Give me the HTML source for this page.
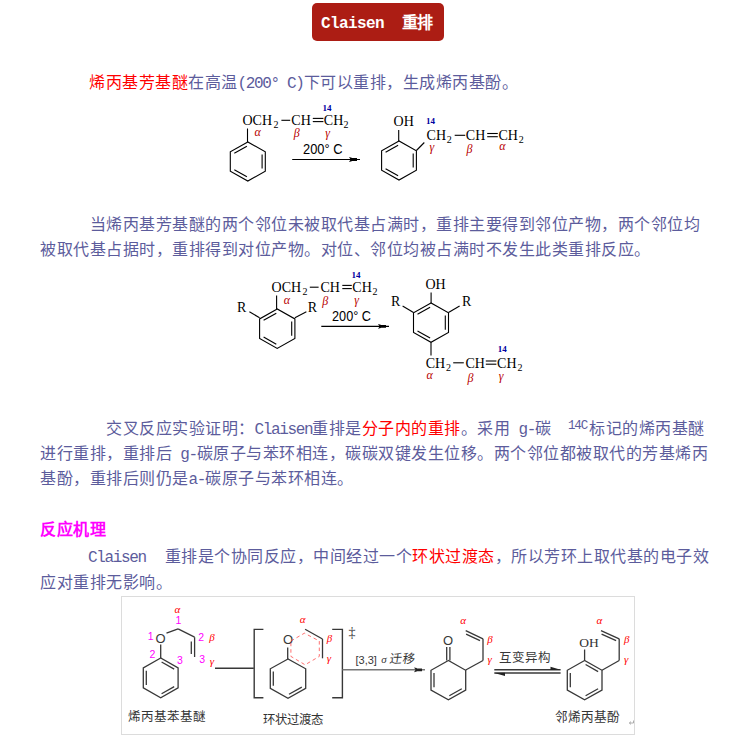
<!DOCTYPE html>
<html lang="zh-CN"><head><meta charset="utf-8">
<style>
html,body{margin:0;padding:0;background:#fff;width:737px;height:738px;overflow:hidden;}
body{position:relative;font-family:"Liberation Sans",sans-serif;}
.btn{position:absolute;left:312px;top:3px;width:132px;height:38px;background:#ac1d14;border-radius:5px;}
.btn span{position:absolute;left:9px;top:2px;line-height:38px;color:#fff;font-weight:bold;font-family:"Liberation Mono",monospace;font-size:16px;letter-spacing:-0.6px;white-space:pre;}
.ln{position:absolute;white-space:pre;font-size:16px;letter-spacing:0.5px;line-height:25px;color:#5c5c9c;}
.m{font-family:"Liberation Mono",monospace;font-size:16px;letter-spacing:-1.35px;font-weight:normal;}
.r{color:#ff0000;}
.h{color:#ff00ff;font-weight:bold;}
sup{font-family:"Liberation Mono",monospace;font-size:12.5px;vertical-align:0;position:relative;top:-5px;letter-spacing:-1.2px;font-weight:normal;display:inline-block;width:21px;}
svg{position:absolute;left:0;top:0;}
</style></head><body>
<div class="btn"><span>Claisen  重排</span></div>
<div class="ln" style="left:89px;top:70px"><span class="r">烯丙基芳基醚</span>在高温<span class="m">(200° C)</span>下可以重排，生成烯丙基酚。</div>
<div class="ln" style="left:89.5px;top:212px">当烯丙基芳基醚的两个邻位未被取代基占满时，重排主要得到邻位产物，两个邻位均</div>
<div class="ln" style="left:40px;top:237px">被取代基占据时，重排得到对位产物。对位、邻位均被占满时不发生此类重排反应。</div>
<div class="ln" style="left:106px;top:416px">交叉反应实验证明：<span class="m">Claisen</span>重排是<span class="r">分子内的重排</span>。采用<span class="m"> g-</span>碳<span class="m">  </span><sup>14C</sup>标记的烯丙基醚</div>
<div class="ln" style="left:40px;top:441px">进行重排，重排后<span class="m"> g-</span>碳原子与苯环相连，碳碳双键发生位移。两个邻位都被取代的芳基烯丙</div>
<div class="ln" style="left:40px;top:466px">基酚，重排后则仍是<span class="m">a-</span>碳原子与苯环相连。</div>
<div class="ln h" style="left:40px;top:517px">反应机理</div>
<div class="ln" style="left:88px;top:544px"><span class="m" style="padding-right:2.5px">Claisen  </span>重排是个协同反应，中间经过一个<span class="r">环状过渡态</span>，所以芳环上取代基的电子效</div>
<div class="ln" style="left:40px;top:570px">应对重排无影响。</div>
<svg width="737" height="738" viewBox="0 0 737 738">
<text x="242.5" y="124.5" font-family="Liberation Serif" font-size="14" fill="#000" text-anchor="start" >OCH</text>
<text x="273.6" y="127.8" font-family="Liberation Serif" font-size="10" fill="#000" text-anchor="start" >2</text>
<line x1="281.4" y1="120.3" x2="290.2" y2="120.3" stroke="#000" stroke-width="1.1" />
<text x="291.3" y="124.5" font-family="Liberation Serif" font-size="14" fill="#000" text-anchor="start" >CH</text>
<line x1="312.8" y1="118.4" x2="323.4" y2="118.4" stroke="#000" stroke-width="1.1" />
<line x1="312.8" y1="121.6" x2="323.4" y2="121.6" stroke="#000" stroke-width="1.1" />
<text x="323.8" y="124.5" font-family="Liberation Serif" font-size="14" fill="#000" text-anchor="start" >CH</text>
<text x="343.6" y="127.8" font-family="Liberation Serif" font-size="10" fill="#000" text-anchor="start" >2</text>
<text x="322.5" y="110.6" font-family="Liberation Serif" font-size="9" fill="#0000a0" text-anchor="start" font-weight="bold">14</text>
<text x="254.5" y="136.4" font-family="Liberation Serif" font-size="12" fill="#b80000" text-anchor="start" font-style="italic">α</text>
<text x="293.8" y="137.0" font-family="Liberation Serif" font-size="12" fill="#b80000" text-anchor="start" font-style="italic">β</text>
<text x="325.2" y="136.5" font-family="Liberation Serif" font-size="12" fill="#b80000" text-anchor="start" font-style="italic">γ</text>
<line x1="247.5" y1="128.5" x2="247.5" y2="142.0" stroke="#000" stroke-width="1.1" />
<polygon points="247.8,142.0 230.3,151.8 230.3,171.2 247.8,181.0 265.3,171.2 265.3,151.8" fill="none" stroke="#000" stroke-width="1.1" stroke-linejoin="miter"/>
<line x1="246.9" y1="146.2" x2="234.3" y2="153.2" stroke="#000" stroke-width="1.1" />
<line x1="262.1" y1="168.5" x2="262.1" y2="154.5" stroke="#000" stroke-width="1.1" />
<line x1="234.3" y1="169.8" x2="246.9" y2="176.8" stroke="#000" stroke-width="1.1" />
<text x="303.0" y="154.0" font-family="Liberation Sans" font-size="14" fill="#000" text-anchor="start" textLength="39.5" lengthAdjust="spacingAndGlyphs">200° C</text>
<line x1="292.2" y1="159.5" x2="360.0" y2="159.5" stroke="#000" stroke-width="1.1" />
<path d="M349,157.1 L351.8,157.8 L351.8,158.1 L357,158.1 L357,160.9 L351.8,160.9 L351.8,161.2 L349,161.9 L350.6,159.5 Z" fill="#000"/>
<text x="393.6" y="126.3" font-family="Liberation Serif" font-size="14" fill="#000" text-anchor="start" >OH</text>
<line x1="398.7" y1="130.0" x2="398.7" y2="141.0" stroke="#000" stroke-width="1.1" />
<polygon points="399.0,141.0 381.6,150.8 381.6,170.2 399.0,180.0 416.4,170.2 416.4,150.8" fill="none" stroke="#000" stroke-width="1.1" stroke-linejoin="miter"/>
<line x1="398.1" y1="145.2" x2="385.6" y2="152.2" stroke="#000" stroke-width="1.1" />
<line x1="413.2" y1="167.5" x2="413.2" y2="153.5" stroke="#000" stroke-width="1.1" />
<line x1="385.6" y1="168.8" x2="398.1" y2="175.8" stroke="#000" stroke-width="1.1" />
<line x1="416.4" y1="150.5" x2="424.3" y2="142.5" stroke="#000" stroke-width="1.1" />
<text x="426.6" y="139.8" font-family="Liberation Serif" font-size="14" fill="#000" text-anchor="start" >CH</text>
<text x="446.8" y="143.0" font-family="Liberation Serif" font-size="10" fill="#000" text-anchor="start" >2</text>
<text x="426.0" y="123.8" font-family="Liberation Serif" font-size="9" fill="#0000a0" text-anchor="start" font-weight="bold">14</text>
<text x="429.6" y="150.5" font-family="Liberation Serif" font-size="12" fill="#b80000" text-anchor="start" font-style="italic">γ</text>
<line x1="454.7" y1="135.3" x2="465.2" y2="135.3" stroke="#000" stroke-width="1.1" />
<text x="465.8" y="140.0" font-family="Liberation Serif" font-size="14" fill="#000" text-anchor="start" >CH</text>
<line x1="487.2" y1="133.5" x2="497.8" y2="133.5" stroke="#000" stroke-width="1.1" />
<line x1="487.2" y1="136.7" x2="497.8" y2="136.7" stroke="#000" stroke-width="1.1" />
<text x="498.4" y="140.0" font-family="Liberation Serif" font-size="14" fill="#000" text-anchor="start" >CH</text>
<text x="518.8" y="143.2" font-family="Liberation Serif" font-size="10" fill="#000" text-anchor="start" >2</text>
<text x="466.5" y="152.5" font-family="Liberation Serif" font-size="12" fill="#b80000" text-anchor="start" font-style="italic">β</text>
<text x="499.2" y="149.5" font-family="Liberation Serif" font-size="12" fill="#b80000" text-anchor="start" font-style="italic">α</text>
<text x="271.6" y="291.5" font-family="Liberation Serif" font-size="14" fill="#000" text-anchor="start" >OCH</text>
<text x="302.6" y="294.8" font-family="Liberation Serif" font-size="10" fill="#000" text-anchor="start" >2</text>
<line x1="309.8" y1="287.2" x2="318.6" y2="287.2" stroke="#000" stroke-width="1.1" />
<text x="320.4" y="291.5" font-family="Liberation Serif" font-size="14" fill="#000" text-anchor="start" >CH</text>
<line x1="342.3" y1="285.4" x2="351.8" y2="285.4" stroke="#000" stroke-width="1.1" />
<line x1="342.3" y1="288.6" x2="351.8" y2="288.6" stroke="#000" stroke-width="1.1" />
<text x="352.3" y="291.5" font-family="Liberation Serif" font-size="14" fill="#000" text-anchor="start" >CH</text>
<text x="372.6" y="294.8" font-family="Liberation Serif" font-size="10" fill="#000" text-anchor="start" >2</text>
<text x="351.6" y="278.0" font-family="Liberation Serif" font-size="9" fill="#0000a0" text-anchor="start" font-weight="bold">14</text>
<text x="283.8" y="303.5" font-family="Liberation Serif" font-size="12" fill="#b80000" text-anchor="start" font-style="italic">α</text>
<text x="322.3" y="304.5" font-family="Liberation Serif" font-size="12" fill="#b80000" text-anchor="start" font-style="italic">β</text>
<text x="354.3" y="303.5" font-family="Liberation Serif" font-size="12" fill="#b80000" text-anchor="start" font-style="italic">γ</text>
<line x1="276.6" y1="295.5" x2="276.6" y2="309.0" stroke="#000" stroke-width="1.1" />
<polygon points="277.2,309.0 259.6,318.9 259.6,338.5 277.2,348.4 294.9,338.5 294.9,318.9" fill="none" stroke="#000" stroke-width="1.1" stroke-linejoin="miter"/>
<line x1="276.3" y1="313.2" x2="263.6" y2="320.3" stroke="#000" stroke-width="1.1" />
<line x1="291.7" y1="335.8" x2="291.7" y2="321.6" stroke="#000" stroke-width="1.1" />
<line x1="263.6" y1="337.1" x2="276.3" y2="344.2" stroke="#000" stroke-width="1.1" />
<text x="237.0" y="311.8" font-family="Liberation Serif" font-size="14" fill="#000" text-anchor="start" >R</text>
<line x1="249.4" y1="311.8" x2="259.6" y2="317.8" stroke="#000" stroke-width="1.1" />
<text x="307.8" y="311.8" font-family="Liberation Serif" font-size="14" fill="#000" text-anchor="start" >R</text>
<line x1="294.9" y1="317.8" x2="306.4" y2="311.8" stroke="#000" stroke-width="1.1" />
<text x="332.0" y="320.6" font-family="Liberation Sans" font-size="14" fill="#000" text-anchor="start" textLength="39" lengthAdjust="spacingAndGlyphs">200° C</text>
<line x1="321.3" y1="326.4" x2="389.0" y2="326.4" stroke="#000" stroke-width="1.1" />
<path d="M378,324.0 L380.8,324.7 L380.8,325.0 L386,325.0 L386,327.79999999999995 L380.8,327.79999999999995 L380.8,328.09999999999997 L378,328.79999999999995 L379.6,326.4 Z" fill="#000"/>
<text x="425.5" y="288.7" font-family="Liberation Serif" font-size="14" fill="#000" text-anchor="start" >OH</text>
<line x1="431.1" y1="292.5" x2="431.1" y2="303.0" stroke="#000" stroke-width="1.1" />
<polygon points="431.0,303.0 413.5,312.8 413.5,332.5 431.0,342.3 448.5,332.5 448.5,312.8" fill="none" stroke="#000" stroke-width="1.1" stroke-linejoin="miter"/>
<line x1="430.1" y1="307.2" x2="417.5" y2="314.2" stroke="#000" stroke-width="1.1" />
<line x1="445.3" y1="329.7" x2="445.3" y2="315.6" stroke="#000" stroke-width="1.1" />
<line x1="417.5" y1="331.1" x2="430.1" y2="338.1" stroke="#000" stroke-width="1.1" />
<text x="391.0" y="305.7" font-family="Liberation Serif" font-size="14" fill="#000" text-anchor="start" >R</text>
<line x1="402.6" y1="306.0" x2="413.5" y2="312.5" stroke="#000" stroke-width="1.1" />
<text x="462.0" y="305.7" font-family="Liberation Serif" font-size="14" fill="#000" text-anchor="start" >R</text>
<line x1="448.5" y1="312.5" x2="459.6" y2="306.0" stroke="#000" stroke-width="1.1" />
<line x1="431.0" y1="342.3" x2="431.0" y2="355.5" stroke="#000" stroke-width="1.1" />
<text x="425.7" y="367.9" font-family="Liberation Serif" font-size="14" fill="#000" text-anchor="start" >CH</text>
<text x="446.0" y="371.0" font-family="Liberation Serif" font-size="10" fill="#000" text-anchor="start" >2</text>
<line x1="453.2" y1="362.8" x2="463.8" y2="362.8" stroke="#000" stroke-width="1.1" />
<text x="465.4" y="367.9" font-family="Liberation Serif" font-size="14" fill="#000" text-anchor="start" >CH</text>
<line x1="485.8" y1="361.0" x2="496.4" y2="361.0" stroke="#000" stroke-width="1.1" />
<line x1="485.8" y1="364.2" x2="496.4" y2="364.2" stroke="#000" stroke-width="1.1" />
<text x="497.1" y="367.9" font-family="Liberation Serif" font-size="14" fill="#000" text-anchor="start" >CH</text>
<text x="517.6" y="371.0" font-family="Liberation Serif" font-size="10" fill="#000" text-anchor="start" >2</text>
<text x="497.8" y="352.0" font-family="Liberation Serif" font-size="9" fill="#0000a0" text-anchor="start" font-weight="bold">14</text>
<text x="426.5" y="379.4" font-family="Liberation Serif" font-size="12" fill="#b80000" text-anchor="start" font-style="italic">α</text>
<text x="467.6" y="381.5" font-family="Liberation Serif" font-size="12" fill="#b80000" text-anchor="start" font-style="italic">β</text>
<text x="498.8" y="380.0" font-family="Liberation Serif" font-size="12" fill="#b80000" text-anchor="start" font-style="italic">γ</text>
<rect x="121.5" y="596.5" width="513" height="138" fill="none" stroke="#dcdcdc" stroke-width="1"/>
<text x="174.5" y="613.4" font-family="Liberation Serif" font-size="11" fill="#ff0000" text-anchor="start" font-style="italic">α</text>
<text x="175.5" y="624.0" font-family="Liberation Sans" font-size="10.5" fill="#ff00ff" text-anchor="start" >1</text>
<text x="147.8" y="639.6" font-family="Liberation Sans" font-size="10.5" fill="#ff00ff" text-anchor="start" >1</text>
<text x="155.5" y="642.5" font-family="Liberation Sans" font-size="13" fill="#383838" text-anchor="start" >O</text>
<line x1="166.5" y1="633.2" x2="178.1" y2="628.9" stroke="#383838" stroke-width="1.3" />
<line x1="178.1" y1="628.9" x2="194.6" y2="637.2" stroke="#383838" stroke-width="1.3" />
<line x1="194.6" y1="637.2" x2="194.6" y2="657.0" stroke="#383838" stroke-width="1.3" />
<line x1="191.3" y1="641.5" x2="191.3" y2="654.0" stroke="#383838" stroke-width="1.3" />
<text x="198.2" y="640.5" font-family="Liberation Sans" font-size="10.5" fill="#ff00ff" text-anchor="start" >2</text>
<text x="209.2" y="640.5" font-family="Liberation Serif" font-size="11" fill="#ff0000" text-anchor="start" font-style="italic">β</text>
<text x="199.2" y="662.8" font-family="Liberation Sans" font-size="10.5" fill="#ff00ff" text-anchor="start" >3</text>
<text x="209.8" y="664.5" font-family="Liberation Serif" font-size="11" fill="#ff0000" text-anchor="start" font-style="italic">γ</text>
<line x1="160.7" y1="644.4" x2="160.7" y2="658.0" stroke="#383838" stroke-width="1.3" />
<text x="149.6" y="658.0" font-family="Liberation Sans" font-size="10.5" fill="#ff00ff" text-anchor="start" >2</text>
<text x="177.0" y="663.8" font-family="Liberation Sans" font-size="10.5" fill="#ff00ff" text-anchor="start" >3</text>
<polygon points="160.7,658.0 143.3,667.9 143.3,687.8 160.7,697.7 178.1,687.8 178.1,667.9" fill="none" stroke="#383838" stroke-width="1.3" stroke-linejoin="miter"/>
<line x1="174.2" y1="669.1" x2="161.6" y2="662.0" stroke="#383838" stroke-width="1.3" />
<line x1="146.3" y1="670.7" x2="146.3" y2="685.0" stroke="#383838" stroke-width="1.3" />
<line x1="161.6" y1="693.7" x2="174.2" y2="686.6" stroke="#383838" stroke-width="1.3" />
<line x1="215.0" y1="668.3" x2="253.8" y2="668.3" stroke="#383838" stroke-width="1.4" />
<text x="127.5" y="720.5" font-family="Liberation Sans" font-size="12.5" fill="#333" text-anchor="start" >烯丙基苯基醚</text>
<path d="M263.4,629.4 H254.2 V697.7 H263.4" fill="none" stroke="#383838" stroke-width="1.4"/>
<path d="M332.2,629.4 H342.4 V697.7 H332.2" fill="none" stroke="#383838" stroke-width="1.4"/>
<text x="348.5" y="637.0" font-family="Liberation Serif" font-size="14" fill="#383838" text-anchor="start" >‡</text>
<text x="283.0" y="643.5" font-family="Liberation Sans" font-size="13" fill="#383838" text-anchor="start" >O</text>
<line x1="287.7" y1="647.4" x2="287.7" y2="659.0" stroke="#383838" stroke-width="1.3" />
<polygon points="288.0,659.0 270.3,668.8 270.3,688.4 288.0,698.2 305.7,688.4 305.7,668.8" fill="none" stroke="#383838" stroke-width="1.3" stroke-linejoin="miter"/>
<line x1="273.3" y1="671.5" x2="273.3" y2="685.7" stroke="#383838" stroke-width="1.3" />
<line x1="289.0" y1="694.2" x2="301.8" y2="687.1" stroke="#383838" stroke-width="1.3" />
<path d="M290.9,641 L304.4,633.2 L319.3,641 L319.3,656.4 L305.1,664.8 L290.9,656.4 Z" fill="none" stroke="#ff4040" stroke-width="1" stroke-dasharray="3.5,3" opacity="0.75"/>
<line x1="305.1" y1="629.3" x2="322.5" y2="639.0" stroke="#383838" stroke-width="1.3" />
<line x1="322.5" y1="639.0" x2="322.5" y2="658.3" stroke="#383838" stroke-width="1.3" />
<text x="299.7" y="623.0" font-family="Liberation Serif" font-size="11" fill="#ff0000" text-anchor="start" font-style="italic">α</text>
<text x="326.8" y="641.5" font-family="Liberation Serif" font-size="11" fill="#ff0000" text-anchor="start" font-style="italic">β</text>
<text x="326.8" y="662.0" font-family="Liberation Serif" font-size="11" fill="#ff0000" text-anchor="start" font-style="italic">γ</text>
<text x="262.5" y="724.0" font-family="Liberation Sans" font-size="12.4" fill="#333" text-anchor="start" >环状过渡态</text>
<line x1="342.4" y1="669.8" x2="425.0" y2="669.8" stroke="#777" stroke-width="1.5" />
<path d="M414,667.4 L416.8,668.0999999999999 L416.8,668.4 L422,668.4 L422,671.1999999999999 L416.8,671.1999999999999 L416.8,671.5 L414,672.1999999999999 L415.6,669.8 Z" fill="#222"/>
<text x="355.5" y="663.5" font-family="Liberation Sans" font-size="11" fill="#383838" text-anchor="start" >[3,3]</text>
<text x="381.2" y="662.5" font-family="Liberation Serif" font-size="11" fill="#383838" text-anchor="start" font-style="italic">σ</text>
<text x="389.3" y="663.0" font-family="Liberation Sans" font-size="12.5" fill="#383838" text-anchor="start" transform="translate(389.3,663) skewX(-8) translate(-389.3,-663)">迁移</text>
<text x="443.0" y="644.9" font-family="Liberation Sans" font-size="13" fill="#383838" text-anchor="start" >O</text>
<line x1="446.7" y1="647.0" x2="446.7" y2="660.5" stroke="#383838" stroke-width="1.3" />
<line x1="449.9" y1="647.0" x2="449.9" y2="660.5" stroke="#383838" stroke-width="1.3" />
<polygon points="448.4,660.5 431.0,670.3 431.0,690.0 448.4,699.8 465.7,690.0 465.7,670.3" fill="none" stroke="#383838" stroke-width="1.3" stroke-linejoin="miter"/>
<line x1="434.0" y1="673.1" x2="434.0" y2="687.2" stroke="#383838" stroke-width="1.3" />
<line x1="449.3" y1="695.8" x2="461.8" y2="688.7" stroke="#383838" stroke-width="1.3" />
<line x1="465.7" y1="670.0" x2="483.0" y2="660.5" stroke="#383838" stroke-width="1.3" />
<line x1="483.0" y1="660.5" x2="483.0" y2="638.8" stroke="#383838" stroke-width="1.3" />
<line x1="483.0" y1="638.8" x2="465.7" y2="630.6" stroke="#383838" stroke-width="1.3" />
<line x1="480.0" y1="640.7" x2="466.1" y2="634.1" stroke="#383838" stroke-width="1.3" />
<text x="460.3" y="623.5" font-family="Liberation Serif" font-size="11" fill="#ff0000" text-anchor="start" font-style="italic">α</text>
<text x="487.3" y="642.5" font-family="Liberation Serif" font-size="11" fill="#ff0000" text-anchor="start" font-style="italic">β</text>
<text x="487.6" y="662.5" font-family="Liberation Serif" font-size="11" fill="#ff0000" text-anchor="start" font-style="italic">γ</text>
<text x="498.8" y="662.2" font-family="Liberation Sans" font-size="12.5" fill="#383838" text-anchor="start" >互变异构</text>
<line x1="494.3" y1="669.8" x2="560.6" y2="669.8" stroke="#383838" stroke-width="1.4" />
<line x1="494.3" y1="673.0" x2="560.6" y2="673.0" stroke="#383838" stroke-width="1.4" />
<path d="M550.5,666.8 L560.6,669.8 L550.5,670 Z" fill="#222"/>
<path d="M505,676 L494.3,673 L505,672.8 Z" fill="#222"/>
<text x="579.3" y="646.8" font-family="Liberation Serif" font-size="13.5" fill="#333" text-anchor="start" >OH</text>
<line x1="584.6" y1="649.5" x2="584.6" y2="660.5" stroke="#383838" stroke-width="1.3" />
<polygon points="584.6,660.5 567.3,670.3 567.3,690.0 584.6,699.8 602.0,690.0 602.0,670.3" fill="none" stroke="#383838" stroke-width="1.3" stroke-linejoin="miter"/>
<line x1="598.1" y1="671.6" x2="585.6" y2="664.5" stroke="#383838" stroke-width="1.3" />
<line x1="570.3" y1="673.1" x2="570.3" y2="687.2" stroke="#383838" stroke-width="1.3" />
<line x1="585.6" y1="695.8" x2="598.1" y2="688.7" stroke="#383838" stroke-width="1.3" />
<line x1="602.0" y1="670.3" x2="619.2" y2="660.5" stroke="#383838" stroke-width="1.3" />
<line x1="619.2" y1="660.5" x2="619.2" y2="638.8" stroke="#383838" stroke-width="1.3" />
<line x1="619.2" y1="638.8" x2="601.0" y2="630.6" stroke="#383838" stroke-width="1.3" />
<line x1="616.1" y1="640.7" x2="601.6" y2="634.2" stroke="#383838" stroke-width="1.3" />
<text x="596.6" y="623.5" font-family="Liberation Serif" font-size="11" fill="#ff0000" text-anchor="start" font-style="italic">α</text>
<text x="624.0" y="642.5" font-family="Liberation Serif" font-size="11" fill="#ff0000" text-anchor="start" font-style="italic">β</text>
<text x="624.0" y="662.5" font-family="Liberation Serif" font-size="11" fill="#ff0000" text-anchor="start" font-style="italic">γ</text>
<text x="554.8" y="721.0" font-family="Liberation Sans" font-size="12.6" fill="#333" text-anchor="start" >邻烯丙基酚</text>
<path d="M633.5,720.5 V723 H629.5 M631,721.6 L629.3,723 L631,724.4" fill="none" stroke="#999" stroke-width="0.8"/>
</svg>
</body></html>
